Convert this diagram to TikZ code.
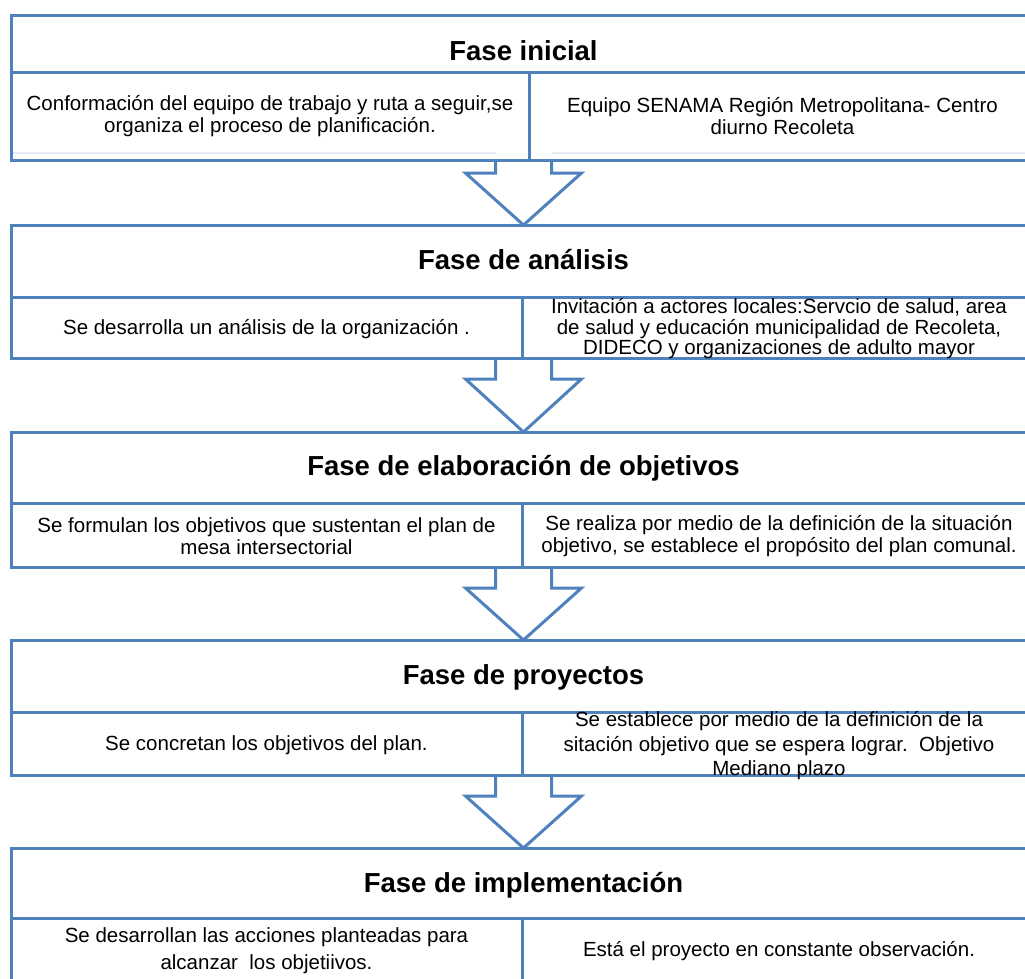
\documentclass[tikz,border=0pt]{standalone}
\usepackage{fontspec}
\setmainfont{Liberation Sans}
\usetikzlibrary{calc}
\definecolor{bl}{RGB}{79,129,189}
\definecolor{faint}{RGB}{228,235,245}
\begin{document}
\begin{tikzpicture}[x=1pt,y=-1pt,
  phasebox/.style={draw=bl, line width=3pt, minimum width=1025pt, inner sep=0pt, outer sep=0pt, anchor=north west},
  divline/.style={draw=bl, line width=3pt},
  head/.style={font=\fontsize{27.5}{30}\selectfont\bfseries, inner sep=0pt, text height=0.72em, text depth=0.21em},
  cell/.style={font=\fontsize{20.5}{22}\selectfont, align=center, inner sep=0pt},
  blockarrow/.style={draw=bl, line width=3pt, line join=miter}
]
\useasboundingbox (0,0) rectangle (1025,978);
\clip (0,0) rectangle (1025,978);

% phase boxes
\node[phasebox, minimum height=145pt] (p1) at (11,15) {};
\node[phasebox, minimum height=133pt] (p2) at (11,225) {};
\node[phasebox, minimum height=135pt] (p3) at (11,432) {};
\node[phasebox, minimum height=135pt] (p4) at (11,640) {};
\node[phasebox, minimum height=160pt] (p5) at (11,848) {};

% dividers
\draw[divline] (11,72) -- (1036,72);
\draw[divline] (529,72) -- (529,160);
\draw[faint, line width=2pt] (13,153) -- (496,153);
\draw[faint, line width=2pt] (552,153) -- (1036,153);
\draw[divline] (11,297) -- (1036,297);
\draw[divline] (522,297) -- (522,358);
\draw[divline] (11,503) -- (1036,503);
\draw[divline] (522,503) -- (522,567);
\draw[divline] (11,712) -- (1036,712);
\draw[divline] (522,712) -- (522,775);
\draw[divline] (11,918) -- (1036,918);
\draw[divline] (522,918) -- (522,1008);

% headers
\node[head] (h1) at (523.5,58) {Fase inicial};
\node[head] (h2) at (523.5,267) {Fase de análisis};
\node[head] (h3) at (523.5,473) {Fase de elaboración de objetivos};
\node[head] (h4) at (523.5,682) {Fase de proyectos};
\node[head] (h5) at (523.5,890) {Fase de implementación};

% cells
\node[cell] (c1l) at (270,116) {Conformación del equipo de trabajo y ruta a seguir,se\\organiza el proceso de planificación.};
\node[cell] (c1r) at (782.5,116) {Equipo SENAMA Región Metropolitana- Centro\\diurno Recoleta};
\node[cell] (c2l) at (266.5,329) {Se desarrolla un análisis de la organización .};
\node[cell, font=\fontsize{20.5}{20.5}\selectfont] (c2r) at (779,329) {Invitación a actores locales:Servcio de salud, area\\de salud y educación municipalidad de Recoleta,\\DIDECO y organizaciones de adulto mayor};
\node[cell] (c3l) at (266.5,536) {Se formulan los objetivos que sustentan el plan de\\mesa intersectorial};
\node[cell] (c3r) at (779,536) {Se realiza por medio de la definición de la situación\\objetivo, se establece el propósito del plan comunal.};
\node[cell] (c4l) at (266.5,745) {Se concretan los objetivos del plan.};
\node[cell, font=\fontsize{20.5}{24.5}\selectfont] (c4r) at (779,746) {Se establece por medio de la definición de la\\sitación objetivo que se espera lograr.\ \ Objetivo\\Mediano plazo};
\node[cell, font=\fontsize{20.5}{27}\selectfont] (c5l) at (266.5,951) {Se desarrollan las acciones planteadas para\\alcanzar\ \ los objetiivos.};
\node[cell] (c5r) at (779,951) {Está el proyecto en constante observación.};

% block arrows
\draw[blockarrow] ($(p1.south)+(-28,0)$) -- ++(0,13) -- ++(-30,0) -- (p2.north) -- ($(p1.south)+(58,13)$) -- ++(-30,0) -- ++(0,-13);
\draw[blockarrow] ($(p2.south)+(-28,0)$) -- ++(0,21) -- ++(-30,0) -- (p3.north) -- ($(p2.south)+(58,21)$) -- ++(-30,0) -- ++(0,-21);
\draw[blockarrow] ($(p3.south)+(-28,0)$) -- ++(0,21) -- ++(-30,0) -- (p4.north) -- ($(p3.south)+(58,21)$) -- ++(-30,0) -- ++(0,-21);
\draw[blockarrow] ($(p4.south)+(-28,0)$) -- ++(0,21) -- ++(-30,0) -- (p5.north) -- ($(p4.south)+(58,21)$) -- ++(-30,0) -- ++(0,-21);
\end{tikzpicture}
\end{document}
